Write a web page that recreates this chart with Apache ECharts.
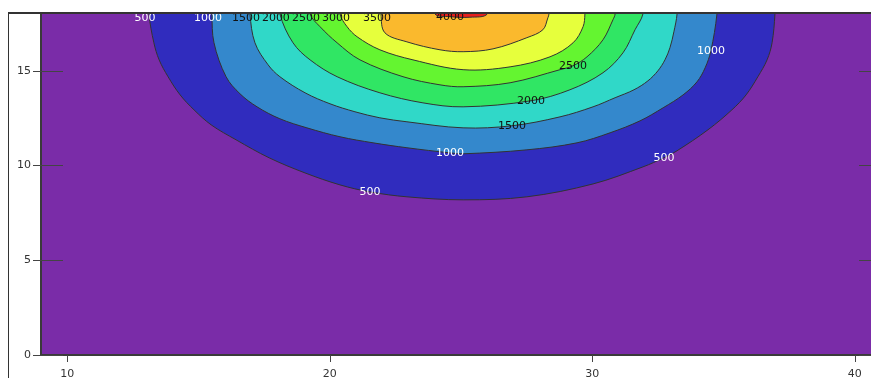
<!DOCTYPE html>
<html>
<head>
<meta charset="utf-8">
<script src="https://cdn.jsdelivr.net/npm/echarts@6/dist/echarts.min.js"></script>
<style>
  html, body { margin: 0; padding: 0; overflow: hidden; background: #fff; }
  #chart { width: 871px; height: 378px; }
</style>
</head>
<body>
<div id="chart"></div>
<script>
// Axis ranges and tick values
const xRange = [9, 41];
const yRange = [0, 18];
const xTicks = [10, 20, 30, 40];
const yTicks = [0, 5, 10, 15];

// Contour levels
const levels = [500, 1000, 1500, 2000, 2500, 3000, 3500, 4000];

// Each contour runs from the top edge on the left, round the dip, back to the top edge on the right ([x, y])
const contour500 = [
  [13.11, 18], [13.30, 16.48], [13.50, 15.58], [13.84, 14.69], [14.30, 13.73], [14.83, 12.94],
  [15.48, 12.15], [16.43, 11.36], [17.69, 10.41], [19.06, 9.61], [20.39, 8.98], [21.53, 8.61],
  [22.94, 8.35], [25.08, 8.19], [27.51, 8.35], [30.03, 9.03], [31.93, 9.93], [32.73, 10.41],
  [33.23, 10.78], [34.41, 11.89], [35.32, 12.94], [35.86, 13.73], [36.31, 14.69], [36.66, 15.58],
  [36.85, 16.48], [36.96, 18]
];
const contour1000 = [
  [15.51, 18], [15.59, 16.48], [16.05, 14.69], [16.58, 13.79], [17.23, 13.10], [18.10, 12.47],
  [19.13, 11.99], [20.39, 11.52], [21.65, 11.20], [22.94, 10.94], [24.58, 10.67], [25.08, 10.62],
  [27.51, 10.83], [29.42, 11.20], [30.68, 11.73], [31.82, 12.36], [32.70, 13.05], [33.46, 13.73],
  [33.99, 14.42], [34.30, 15.16], [34.52, 16.06], [34.75, 18]
];
const contour1500 = [
  [16.96, 18], [17.15, 16.48], [17.65, 15.32], [18.10, 14.69], [19.06, 13.84], [20.01, 13.26],
  [20.96, 12.84], [21.91, 12.52], [22.94, 12.31], [25.08, 11.99], [26.94, 12.10], [28.77, 12.57],
  [30.03, 13.10], [30.87, 13.58], [31.59, 14.00], [32.12, 14.47], [32.50, 15.00], [32.77, 15.58],
  [32.96, 16.22], [33.11, 17.06], [33.23, 18]
];
const contour2000 = [
  [18.10, 18], [18.60, 16.48], [19.25, 15.58], [20.28, 14.69], [21.91, 13.84], [23.55, 13.31],
  [25.08, 13.10], [27.67, 13.42], [29.15, 14.00], [30.41, 14.90], [31.17, 15.95], [31.63, 17.17],
  [31.93, 18]
];
const contour2500 = [
  [19.25, 18], [19.63, 17.33], [20.28, 16.48], [21.15, 15.58], [22.79, 14.69], [24.20, 14.26],
  [25.08, 14.16], [26.87, 14.37], [28.77, 15.06], [29.27, 15.27], [29.80, 15.74], [30.41, 16.64],
  [30.79, 17.70], [30.87, 18]
];
const contour3000 = [
  [20.39, 18], [20.66, 17.33], [21.04, 16.80], [21.91, 16.11], [23.17, 15.58], [25.08, 15.06],
  [26.87, 15.21], [28.39, 15.74], [29.27, 16.48], [29.65, 17.33], [29.72, 18]
];
const contour3500 = [
  [21.95, 18], [22.10, 17.01], [22.94, 16.53], [24.20, 16.11], [25.08, 16.01], [26.22, 16.16],
  [27.51, 16.75], [28.12, 17.17], [28.31, 17.80], [28.35, 18]
];
const contour4000 = [
  [24.01, 18], [24.58, 17.86], [25.34, 17.83], [26.00, 18]
];
const contours = [contour500, contour1000, contour1500, contour2000,
                  contour2500, contour3000, contour3500, contour4000];

// Contour labels: [level, index of the contour vertex the label sits on]
const contourLabels = [
  [500, 0], [500, 11], [500, 17],
  [1000, 0], [1000, 10], [1000, 20],
  [1500, 0], [1500, 10],
  [2000, 0], [2000, 7],
  [2500, 0], [2500, 9],
  [3000, 0],
  [3500, 0],
  [4000, 1]
];

// Band colours: below 500, then above each level
const bandColors = ['#7a2ca8', '#302cbe', '#3488cc', '#30d8c8', '#30e664',
                    '#64f530', '#e6ff3c', '#fab92d', '#e8201c'];
const lineColor = '#333333';
const labelFont = '11px "DejaVu Sans", sans-serif';

const chart = echarts.init(document.getElementById('chart'), null, { renderer: 'canvas' });

function clipRect(params) {
  const cs = params.coordSys;
  return { type: 'rect', shape: { x: cs.x, y: cs.y, width: cs.width, height: cs.height } };
}

const yAxisBase = {
  type: 'value', min: yRange[0], max: yRange[1],
  splitLine: { show: false }
};

chart.setOption({
  animation: false,
  grid: {
    left: 41, top: 14, width: 840, height: 341,
    containLabel: false, outerBoundsMode: 'none',
    show: true, backgroundColor: bandColors[0], borderWidth: 0
  },
  xAxis: {
    type: 'value', min: xRange[0], max: xRange[1],
    axisLine: { show: true, onZero: false, lineStyle: { color: '#3a3a3a', width: 2 } },
    axisTick: { show: true, inside: false, length: 7, customValues: xTicks, lineStyle: { color: '#444' } },
    axisLabel: { customValues: xTicks, margin: 14, color: '#333', fontSize: 11, fontFamily: 'DejaVu Sans' },
    splitLine: { show: false }
  },
  yAxis: [
    Object.assign({}, yAxisBase, {
      position: 'left',
      axisLine: { show: true, onZero: false, lineStyle: { color: '#3a3a3a', width: 2 } },
      axisTick: { show: true, inside: false, length: 8, customValues: yTicks, lineStyle: { color: '#444' } },
      axisLabel: { customValues: yTicks, margin: 10, color: '#333', fontSize: 11, fontFamily: 'DejaVu Sans' }
    }),
    Object.assign({}, yAxisBase, {
      position: 'left',
      axisLine: { show: false },
      axisTick: { show: true, inside: true, length: 22, customValues: yTicks, lineStyle: { color: '#444' } },
      axisLabel: { show: false }
    }),
    Object.assign({}, yAxisBase, {
      position: 'right',
      axisLine: { show: false },
      axisTick: { show: true, inside: true, length: 22, customValues: yTicks, lineStyle: { color: '#444' } },
      axisLabel: { show: false }
    })
  ],
  series: [
    {
      // filled contour bands, lowest level first so higher bands sit on top
      type: 'custom',
      coordinateSystem: 'cartesian2d',
      xAxisIndex: 0, yAxisIndex: 0,
      silent: true,
      data: levels.map((lv, i) => [xRange[0], yRange[0], i]),
      encode: { x: 0, y: 1 },
      renderItem: function (params, api) {
        const i = params.dataIndex;
        const line = contours[i];
        const first = line[0], last = line[line.length - 1];
        // carry both ends up past the top edge so the closing side lies outside the clip
        const ring = [[first[0], yRange[1] + 1]].concat(line, [[last[0], yRange[1] + 1]]);
        const pts = ring.map(p => api.coord(p));
        return {
          type: 'group',
          clipPath: clipRect(params),
          children: [{
            type: 'polygon',
            z2: i,
            shape: { points: pts, smooth: 0.35 },
            style: { fill: bandColors[i + 1], stroke: lineColor, lineWidth: 1 }
          }]
        };
      },
      z: 2
    },
    {
      // level labels along the contour lines
      type: 'custom',
      coordinateSystem: 'cartesian2d',
      xAxisIndex: 0, yAxisIndex: 0,
      silent: true,
      data: contourLabels.map(d => [xRange[0], yRange[0], d[0], d[1]]),
      encode: { x: 0, y: 1 },
      renderItem: function (params, api) {
        const item = contourLabels[params.dataIndex];
        const lv = item[0];
        const li = levels.indexOf(lv);
        const p = contours[li][item[1]];
        const c = api.coord(p);
        const atTop = p[1] >= yRange[1];
        return {
          type: 'group',
          clipPath: clipRect(params),
          children: [{
            type: 'text',
            x: c[0] + (atTop ? -4 : 0),
            y: c[1] + (atTop ? 4 : 0),
            style: {
              text: String(lv),
              fill: lv <= 1000 ? '#ffffff' : '#111111',
              font: labelFont,
              align: 'center',
              verticalAlign: 'middle'
            }
          }]
        };
      },
      z: 3
    }
  ],
  graphic: [
    { type: 'line', z: 100, shape: { x1: 8, y1: 13, x2: 871, y2: 13 }, style: { stroke: '#333', lineWidth: 2 } },
    { type: 'line', z: 100, shape: { x1: 8.5, y1: 13, x2: 8.5, y2: 378 }, style: { stroke: '#333', lineWidth: 1 } }
  ]
});
</script>
</body>
</html>
